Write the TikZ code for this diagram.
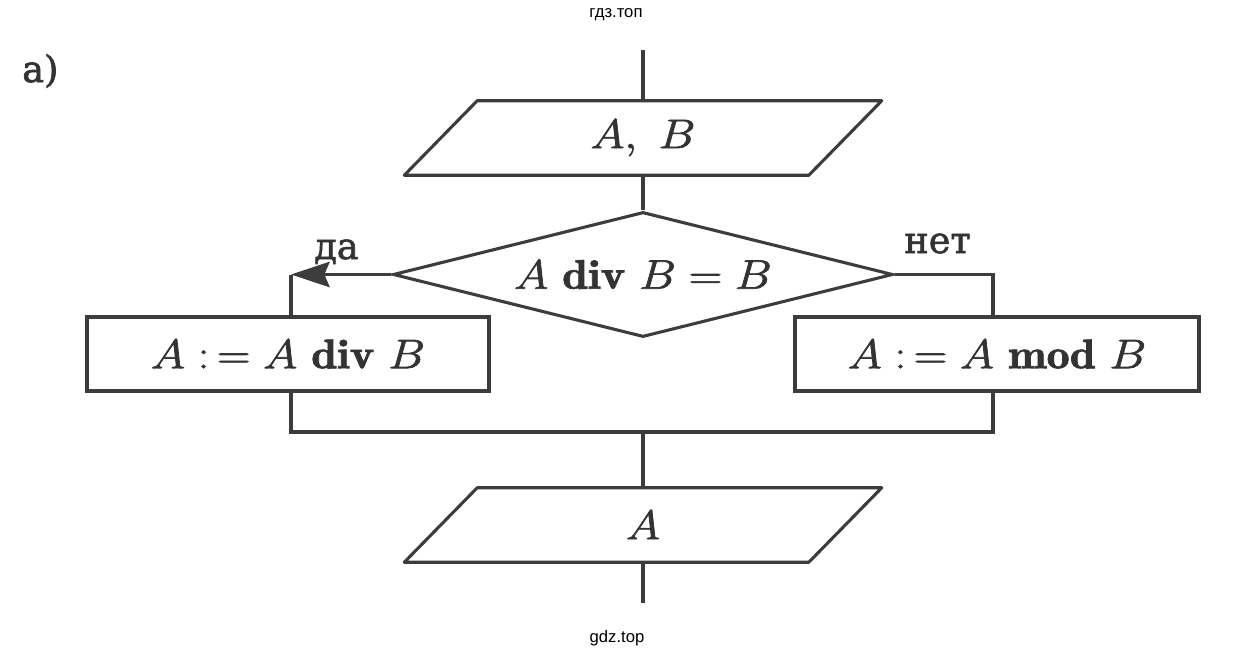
\RequirePackage{fix-cm}
\documentclass[tikz,border=0pt]{standalone}
\usepackage{fontspec}
\newfontfamily\cyrfont{DejaVu Serif}
\newfontfamily\wmfont{Liberation Sans}
\usetikzlibrary{shapes.geometric,arrows.meta}
\definecolor{lc}{HTML}{3C3C3C}
\definecolor{tc}{HTML}{333333}
\newcommand\heavytext[2]{\special{pdf:literal #1 w 2 Tr}#2\special{pdf:literal 0 Tr}}
\newcommand\ftxt[1]{\heavytext{0.5}{\scalebox{1.12}[1]{#1}}}
\tikzset{
  ln/.style={draw=lc, line width=2.3pt},
  txt/.style={text=tc, font=\fontsize{31}{37}\selectfont},
  iobox/.style={rectangle, inner sep=0pt, minimum width=357.75pt, minimum height=55.5pt, txt},
  procbox/.style={rectangle, draw=lc, line width=2.3pt, inner sep=0pt, txt},
  decision/.style={diamond, draw=lc, line width=2.3pt, inner sep=0pt, aspect=4,
    minimum width=375pt, minimum height=93.75pt, txt},
  lbl/.style={text=tc, font=\cyrfont\fontsize{27.5}{33}\selectfont, inner sep=0pt},
  wm/.style={text=black, font=\wmfont\fontsize{12.5}{15}\selectfont, inner sep=0pt},
  arr/.style={-{Stealth[length=29pt, width=19pt, inset=4pt]}}
}
\begin{document}
\begin{tikzpicture}[x=0.75pt,y=-0.75pt]
\useasboundingbox (0,0) rectangle (1237,658);
\fill[white] (0,0) rectangle (1237,658);

\node[wm] (wm1) at (616,15) {гдз.топ};
\node[wm] (wm2) at (617,638) {gdz.top};
\node[lbl, anchor=base west] (lab) at (22,82) {\heavytext{0.5}{a)}};

\coordinate (top) at (643,50);
\node[iobox] (in) at (643,138) {\ftxt{$A,\ B$}};
\draw[ln, line join=round] ([xshift=54.75pt]in.north west) -- (in.north east)
  -- ([xshift=-54.75pt]in.south east) -- (in.south west) -- cycle;

\node[decision] (d) at (643,274.5) {\ftxt{$A\ \mathbf{div}\ B = B$}};

\node[procbox, minimum width=301.5pt, minimum height=55.5pt] (L) at (288,354)
  {\ftxt{$A\mathrel{:\,=}A\ \mathbf{div}\ B$}};
\node[procbox, minimum width=303pt, minimum height=55.5pt] (R) at (997,354)
  {\ftxt{$A\mathrel{:\,=}A\ \mathbf{mod}\ B$}};

\coordinate (cl) at (291,274.5);
\coordinate (cr) at (993,274.5);
\coordinate (bl) at (291,432);
\coordinate (br) at (993,432);
\coordinate (bm) at (643,432);

\node[iobox] (out) at (643,525) {\ftxt{$A$}};
\draw[ln, line join=round] ([xshift=54.75pt]out.north west) -- (out.north east)
  -- ([xshift=-54.75pt]out.south east) -- (out.south west) -- cycle;
\coordinate (end) at (643,603);

\draw[ln] (top) -- (in.north);
\draw[ln] (in.south) -- (d.north);
\draw[ln, arr] (d.west) -- (cl);
\draw[ln] (cl) -- (cl |- L.north);
\draw[ln] (d.east) -- (cr) -- (cr |- R.north);
\draw[ln] (bl |- L.south) -- (bl) -- (br) -- (br |- R.south);
\draw[ln] (bm) -- (out.north);
\draw[ln] (out.south) -- (end);

\node[lbl, anchor=base west] (yes) at (314,259) {\heavytext{0.4}{да}};
\node[lbl, anchor=base west] (no) at (904,253) {\heavytext{0.4}{нет}};
\end{tikzpicture}
\end{document}
